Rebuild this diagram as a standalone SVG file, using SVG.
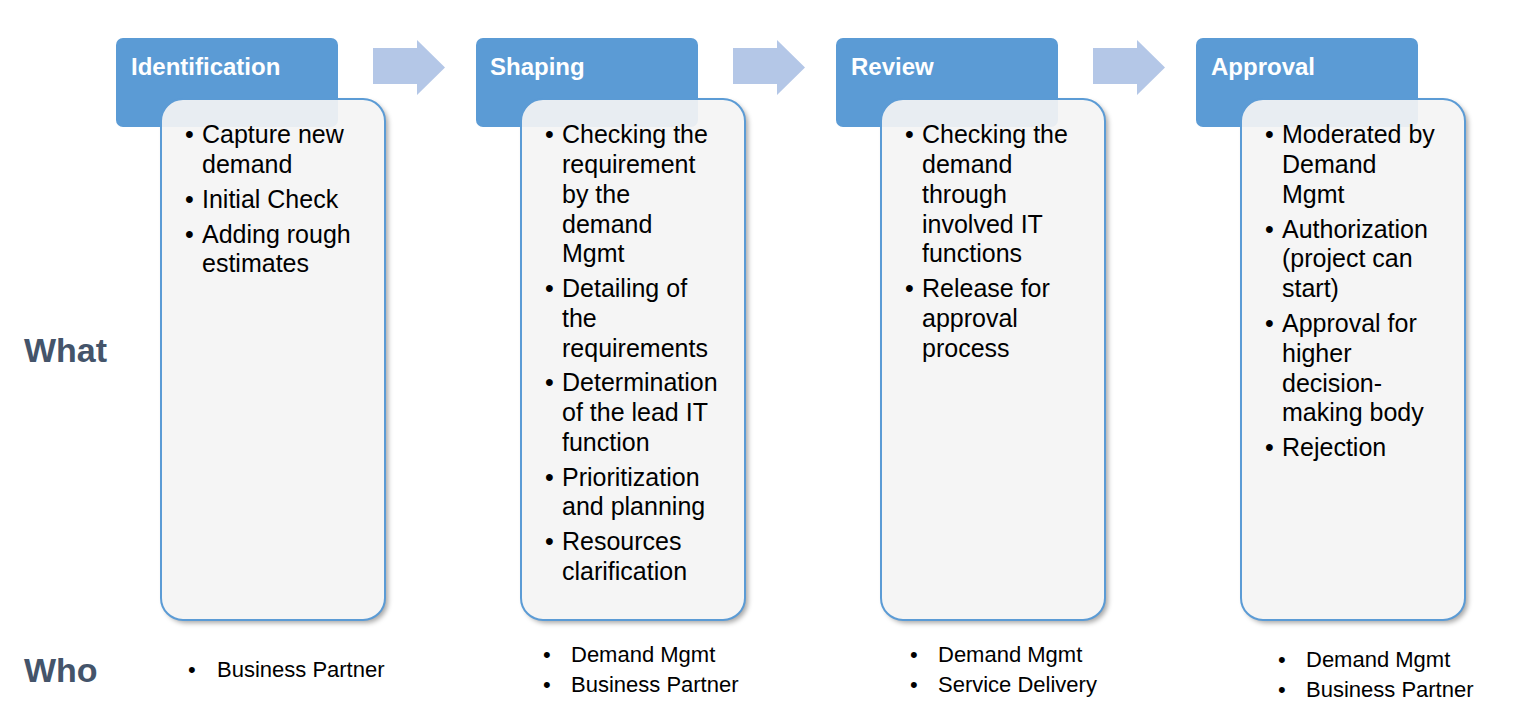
<svg xmlns="http://www.w3.org/2000/svg" width="1525" height="720" viewBox="0 0 1525 720">
<defs>
<filter id="sh" x="-10%" y="-10%" width="130%" height="130%">
<feDropShadow dx="3" dy="3" stdDeviation="2.5" flood-color="#000" flood-opacity="0.35"/>
</filter>
<style>
.hdr{fill:#5B9BD5}
.under{fill:#FFFFFF}
.box{fill:#F4F4F4;fill-opacity:0.92;stroke:#5B9BD5;stroke-width:2}
.arr{fill:#B4C7E7}
.ht{font-family:"Liberation Sans",Arial,sans-serif;font-weight:bold;font-size:24px;fill:#FFFFFF}
.bt{font-family:"Liberation Sans",Arial,sans-serif;font-size:25px;fill:#000}
.wt{font-family:"Liberation Sans",Arial,sans-serif;font-size:22px;fill:#000}
.lbl{font-family:"Liberation Sans",Arial,sans-serif;font-weight:bold;font-size:34px;fill:#44546A}
</style>
</defs>
<rect width="1525" height="720" fill="#FFFFFF"/>

<g id="connectors">
<polygon class="arr" points="373,48 417,48 417,40 445,67.5 417,95 417,84 373,84"/>
<polygon class="arr" points="733,48 777,48 777,40 805,67.5 777,95 777,84 733,84"/>
<polygon class="arr" points="1093,48 1137,48 1137,40 1165,67.5 1137,95 1137,84 1093,84"/>
</g>

<text class="lbl" x="24" y="362">What</text>
<text class="lbl" x="24" y="682">Who</text>

<g id="identification">
<rect class="under" x="161" y="99" width="224" height="521" rx="22" filter="url(#sh)"/>
<rect class="hdr" x="116" y="38" width="222" height="89" rx="7"/>
<text class="ht" x="131" y="75">Identification</text>
<rect class="box" x="161" y="99" width="224" height="521" rx="22"/>
<g class="bt">
<text x="185" y="143">•</text><text x="202" y="143">Capture new</text>
<text x="202" y="173">demand</text>
<text x="185" y="208">•</text><text x="202" y="208">Initial Check</text>
<text x="185" y="243">•</text><text x="202" y="243">Adding rough</text>
<text x="202" y="272">estimates</text>
</g>
</g>

<g id="shaping">
<rect class="under" x="521" y="99" width="224" height="521" rx="22" filter="url(#sh)"/>
<rect class="hdr" x="476" y="38" width="222" height="89" rx="7"/>
<text class="ht" x="490" y="75">Shaping</text>
<rect class="box" x="521" y="99" width="224" height="521" rx="22"/>
<g class="bt">
<text x="545" y="143">•</text><text x="562" y="143">Checking the</text>
<text x="562" y="173">requirement</text>
<text x="562" y="203">by the</text>
<text x="562" y="233">demand</text>
<text x="562" y="262">Mgmt</text>
<text x="545" y="297">•</text><text x="562" y="297">Detailing of</text>
<text x="562" y="327">the</text>
<text x="562" y="357">requirements</text>
<text x="545" y="391">•</text><text x="562" y="391">Determination</text>
<text x="562" y="421">of the lead IT</text>
<text x="562" y="451">function</text>
<text x="545" y="486">•</text><text x="562" y="486">Prioritization</text>
<text x="562" y="515">and planning</text>
<text x="545" y="550">•</text><text x="562" y="550">Resources</text>
<text x="562" y="580">clarification</text>
</g>
</g>

<g id="review">
<rect class="under" x="881" y="99" width="224" height="521" rx="22" filter="url(#sh)"/>
<rect class="hdr" x="836" y="38" width="222" height="89" rx="7"/>
<text class="ht" x="851" y="75">Review</text>
<rect class="box" x="881" y="99" width="224" height="521" rx="22"/>
<g class="bt">
<text x="905" y="143">•</text><text x="922" y="143">Checking the</text>
<text x="922" y="173">demand</text>
<text x="922" y="203">through</text>
<text x="922" y="233">involved IT</text>
<text x="922" y="262">functions</text>
<text x="905" y="297">•</text><text x="922" y="297">Release for</text>
<text x="922" y="327">approval</text>
<text x="922" y="357">process</text>
</g>
</g>

<g id="approval">
<rect class="under" x="1241" y="99" width="224" height="521" rx="22" filter="url(#sh)"/>
<rect class="hdr" x="1196" y="38" width="222" height="89" rx="7"/>
<text class="ht" x="1211" y="75">Approval</text>
<rect class="box" x="1241" y="99" width="224" height="521" rx="22"/>
<g class="bt">
<text x="1265" y="143">•</text><text x="1282" y="143">Moderated by</text>
<text x="1282" y="173">Demand</text>
<text x="1282" y="203">Mgmt</text>
<text x="1265" y="238">•</text><text x="1282" y="238">Authorization</text>
<text x="1282" y="267">(project can</text>
<text x="1282" y="297">start)</text>
<text x="1265" y="332">•</text><text x="1282" y="332">Approval for</text>
<text x="1282" y="362">higher</text>
<text x="1282" y="392">decision-</text>
<text x="1282" y="421">making body</text>
<text x="1265" y="456">•</text><text x="1282" y="456">Rejection</text>
</g>
</g>

<g id="who-identification" class="wt">
<text x="188" y="677">•</text><text x="217" y="677">Business Partner</text>
</g>
<g id="who-shaping" class="wt">
<text x="543" y="662">•</text><text x="571" y="662">Demand Mgmt</text>
<text x="543" y="692">•</text><text x="571" y="692">Business Partner</text>
</g>
<g id="who-review" class="wt">
<text x="910" y="662">•</text><text x="938" y="662">Demand Mgmt</text>
<text x="910" y="692">•</text><text x="938" y="692">Service Delivery</text>
</g>
<g id="who-approval" class="wt">
<text x="1278" y="667">•</text><text x="1306" y="667">Demand Mgmt</text>
<text x="1278" y="697">•</text><text x="1306" y="697">Business Partner</text>
</g>
</svg>
